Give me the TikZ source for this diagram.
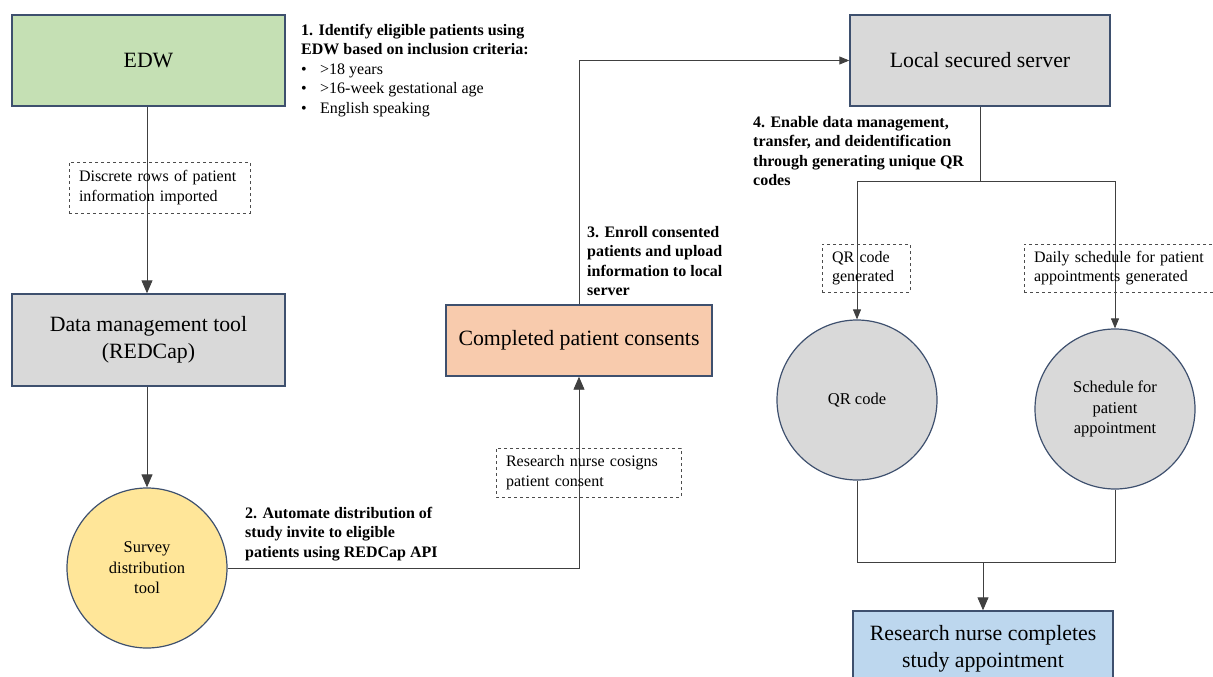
\documentclass[tikz,border=0pt]{standalone}
\usepackage{fontspec}
\setmainfont{Liberation Serif}
\usetikzlibrary{arrows.meta}
\definecolor{bord}{RGB}{62,80,110}
\definecolor{cgreen}{HTML}{C5E0B4}
\definecolor{cgrey}{HTML}{D9D9D9}
\definecolor{corange}{HTML}{F8CBAD}
\definecolor{cyellow}{HTML}{FFE699}
\definecolor{cblue}{HTML}{BDD7EE}
\tikzset{
  mainbox/.style={draw=bord, line width=1.4pt, rectangle, align=center, inner sep=0pt,
    font=\fontsize{21.8}{26.5}\selectfont},
  roundbox/.style={draw=bord, line width=1.2pt, circle, fill=cgrey, minimum size=160pt,
    inner sep=0pt, align=center, font=\fontsize{16.5}{20.5}\selectfont},
  dashbox/.style={draw=black!70, dashed, line width=0.8pt, rectangle, align=left,
    inner xsep=10pt, inner ysep=0pt, font=\fontsize{16}{19.5}\selectfont},
  steplabel/.style={anchor=north west, align=left, inner sep=0pt,
    font=\fontsize{16}{19.5}\selectfont\bfseries},
  conn/.style={draw=black!75, line width=0.9pt},
  arr/.style={conn, -{Triangle[width=11pt,length=13pt]}},
  sarr/.style={conn, -{Triangle[width=8pt,length=10pt]}}
}
\begin{document}
\begin{tikzpicture}[x=1pt,y=-1pt]
\useasboundingbox (0,0) rectangle (1213,677);

% main boxes
\node[mainbox, fill=cgreen, minimum width=273pt, minimum height=91pt] (edw) at (148.5,60.5) {EDW};
\node[mainbox, fill=cgrey, minimum width=273pt, minimum height=92pt] (dm) at (148.5,340) {Data management tool\\(REDCap)};
\node[roundbox, fill=cyellow] (survey) at (147,568) {Survey\\distribution\\tool};
\node[mainbox, fill=corange, minimum width=266pt, minimum height=71pt] (consents) at (579,340.5) {Completed patient consents};
\node[mainbox, fill=cgrey, minimum width=260pt, minimum height=91pt] (server) at (980,60.5) {Local secured server};
\node[roundbox] (qr) at (857,400) {QR code};
\node[roundbox] (sched) at (1115,409) {Schedule for\\patient\\appointment};
\node[mainbox, fill=cblue, minimum width=260pt, minimum height=76pt] (final) at (983,649) {Research nurse completes\\study appointment};

% connectors
\draw[arr] ([xshift=-1.5pt]edw.south) -- ([xshift=-1.5pt]dm.north);
\draw[arr] ([xshift=-1.5pt]dm.south) -- (survey.north);
\draw[arr] (survey.east) -| (consents.south);
\draw[sarr] (consents.north) |- (server.west);
\coordinate (fork) at (980,181);
\draw[conn] (server.south) -- (fork);
\draw[sarr] (fork) -| (qr.north);
\draw[sarr] (fork) -| (sched.north);
\coordinate (join) at (983,562);
\draw[conn] (qr.south) |- (join);
\draw[conn] (sched.south) |- (join);
\draw[arr] (join) -- (final.north);

% dashed labels
\node[dashbox, minimum width=181pt, minimum height=51pt, text width=161pt] (lab1) at (159.5,187.5) {Discrete rows of patient\\information imported};
\node[dashbox, minimum width=185pt, minimum height=49pt, text width=165pt] (lab2) at (588.5,472.5) {Research nurse cosigns\\patient consent};
\node[dashbox, minimum width=88pt, minimum height=48pt, text width=68pt] (lab3) at (866,268) {QR code\\generated};
\node[dashbox, minimum width=196pt, minimum height=48pt, text width=176pt] (lab4) at (1122,268) {Daily schedule for patient\\appointments generated};

% step labels
\node[steplabel] (s1) at (301,24) {1. Identify eligible patients using\\EDW based on inclusion criteria:\\
\mdseries\makebox[19pt][l]{\textbullet}>18 years\\
\mdseries\makebox[19pt][l]{\textbullet}>16-week gestational age\\
\mdseries\makebox[19pt][l]{\textbullet}English speaking};
\node[steplabel] (s2) at (245,507) {2. Automate distribution of\\study invite to eligible\\patients using REDCap API};
\node[steplabel] (s3) at (587,226) {3. Enroll consented\\patients and upload\\information to local\\server};
\node[steplabel] (s4) at (753,116) {4. Enable data management,\\transfer, and deidentification\\through generating unique QR\\codes};
\end{tikzpicture}
\end{document}
